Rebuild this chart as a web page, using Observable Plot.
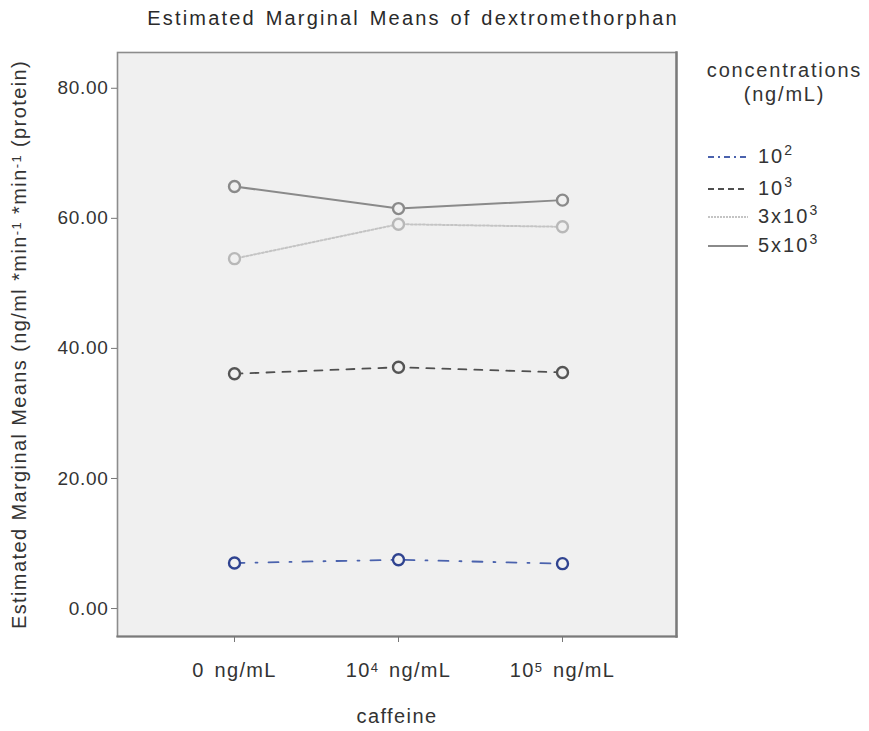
<!DOCTYPE html>
<html>
<head>
<meta charset="utf-8">
<script src="https://cdn.jsdelivr.net/npm/d3@7"></script>
<script src="https://cdn.jsdelivr.net/npm/@observablehq/plot@0.6"></script>
<style>
  body { margin: 0; background: #fff; }
  #wrap { position: relative; width: 869px; height: 731px; font-family: "Liberation Sans", Arial, sans-serif; color: #333; }
  #wrap svg.chart { position: absolute; left: 0; top: 0; }
  #title { position: absolute; left: 0; top: 7px; width: 826px; text-align: center; font-size: 20px; letter-spacing: 2.2px; word-spacing: 2px; color: #2a2a2a; }
  #legend { position: absolute; left: 700px; top: 58px; width: 169px; font-size: 20px; letter-spacing: 1.8px; }
  #legend .head { text-align: center; line-height: 24px; margin-left: 0px; }
  .row { position: absolute; left: 7px; height: 24px; white-space: nowrap; }
  .row svg { position: absolute; left: 0; top: 7px; }
  .row span { position: absolute; left: 51px; top: 0; letter-spacing: 2px; }
  sup { font-size: 14px; vertical-align: 8px; line-height: 0; letter-spacing: 0; }
  .chart g[aria-label="y-axis tick label"] { font-size: 19px; letter-spacing: 0.7px; }
  .chart g[aria-label="x-axis tick label"] { letter-spacing: 1.3px; word-spacing: 3px; }
  .chart g[aria-label="x-axis label"], .chart g[aria-label="y-axis label"] { letter-spacing: 1.4px; }
</style>
</head>
<body>
<div id="wrap">
  <div id="title">Estimated Marginal Means of dextromethorphan</div>
  <div id="legend"><div class="head">concentrations<br>(ng/mL)</div></div>
</div>
<script>
// caffeine levels on the x axis
const caffeine = ["0 ng/mL", "10\u2074 ng/mL", "10\u2075 ng/mL"];
// dextromethorphan concentrations (legend series), as HTML labels
const concentrations = ["10<sup>2</sup>", "10<sup>3</sup>", "3x10<sup>3</sup>", "5x10<sup>3</sup>"];
// estimated marginal means per series, one value per caffeine level
const means1e2 = [7.0, 7.5, 6.9];
const means1e3 = [36.1, 37.1, 36.3];
const means3e3 = [53.8, 59.1, 58.7];
const means5e3 = [64.9, 61.5, 62.8];
const yTicks = [0, 20, 40, 60, 80];

const series = [means1e2, means1e3, means3e3, means5e3];
const styles = [
  {line: "#4a62ad", dot: "#2f4390", dash: "10,11,2,11", key: "6,4,2,4", width: 1.8},
  {line: "#4f4f4f", dot: "#555555", dash: "8,8", key: "6,4", width: 1.8},
  {line: "#c4c4c4", dot: "#b8b8b8", dash: "2,2", key: "2,1", width: 2},
  {line: "#8a8a8a", dot: "#8a8a8a", dash: null, key: null, width: 2}
];

const tables = series.map((vals, i) =>
  vals.map((v, j) => ({series: i, caffeine: caffeine[j], mean: v}))
);

const marks = [
  Plot.frame({fill: "#f0f0f0", stroke: "#8c8c8c", strokeWidth: 1.6}),
  // slightly heavier right and bottom edges of the plot box
  Plot.frame({anchor: "right", stroke: "#7a7a7a", strokeWidth: 2.4}),
  Plot.frame({anchor: "bottom", stroke: "#7a7a7a", strokeWidth: 2.2})
];
tables.forEach((t, i) => {
  const s = styles[i];
  marks.push(Plot.line(t, {x: "caffeine", y: "mean", stroke: s.line, strokeWidth: s.width,
    strokeDasharray: s.dash || undefined}));
});
tables.forEach((t, i) => {
  const s = styles[i];
  marks.push(Plot.dot(t, {x: "caffeine", y: "mean", r: 5.5, stroke: s.dot, strokeWidth: 2.4, fill: "#f0f0f0"}));
});
marks.push(
  Plot.axisY({ticks: yTicks, tickFormat: d3.format(".2f"), tickSize: 6, tickPadding: 3,
    label: "Estimated Marginal Means (ng/ml *min\u207B\u00B9 *min\u207B\u00B9 (protein)",
    labelAnchor: "center", labelArrow: "none", labelOffset: 106, stroke: "#777"}),
  Plot.axisX({tickSize: 6, tickPadding: 20, label: "caffeine", labelAnchor: "center",
    labelArrow: "none", labelOffset: 86, stroke: "#777"})
);

const chart = Plot.plot({
  className: "chart",
  width: 869,
  height: 731,
  marginLeft: 117,
  marginRight: 193,
  marginTop: 52,
  marginBottom: 95,
  style: {fontFamily: "'Liberation Sans', Arial, sans-serif", fontSize: "20px", color: "#333", background: "transparent"},
  x: {type: "point", domain: caffeine, range: [234, 562], padding: 0},
  y: {domain: [-4.3, 85.5]},
  marks
});
document.getElementById("wrap").appendChild(chart);

// render unicode superscripts in axis texts as raised, smaller tspans
const supMap = {"\u2070": "0", "\u00B9": "1", "\u00B2": "2", "\u00B3": "3", "\u2074": "4", "\u2075": "5",
  "\u2076": "6", "\u2077": "7", "\u2078": "8", "\u2079": "9", "\u207B": "-"};
d3.select(chart).selectAll("g[aria-label$='tick label'] text, g[aria-label$='axis label'] text").each(function () {
  const str = this.textContent;
  if (![...str].some(c => supMap[c])) return;
  const runs = [];
  for (const c of str) {
    const sup = !!supMap[c];
    const ch = sup ? supMap[c] : c;
    if (runs.length && runs[runs.length - 1].sup === sup) runs[runs.length - 1].t += ch;
    else runs.push({sup, t: ch});
  }
  const el = d3.select(this);
  el.text(null);
  runs.forEach(r => {
    const ts = el.append("tspan").text(r.t);
    if (r.sup) ts.attr("baseline-shift", "35%").attr("font-size", "65%");
  });
});

// legend rows
const legend = document.getElementById("legend");
const rowTops = [87, 119, 147, 176];
concentrations.forEach((label, i) => {
  const s = styles[i];
  const row = document.createElement("div");
  row.className = "row";
  row.style.top = rowTops[i] + "px";
  row.innerHTML = `<svg width="42" height="10"><line x1="1" x2="41" y1="5" y2="5" stroke="${s.line}" stroke-width="${s.width}" ${s.key ? `stroke-dasharray="${s.key}"` : ""}/></svg><span>${label}</span>`;
  legend.appendChild(row);
});
</script>
</body>
</html>
